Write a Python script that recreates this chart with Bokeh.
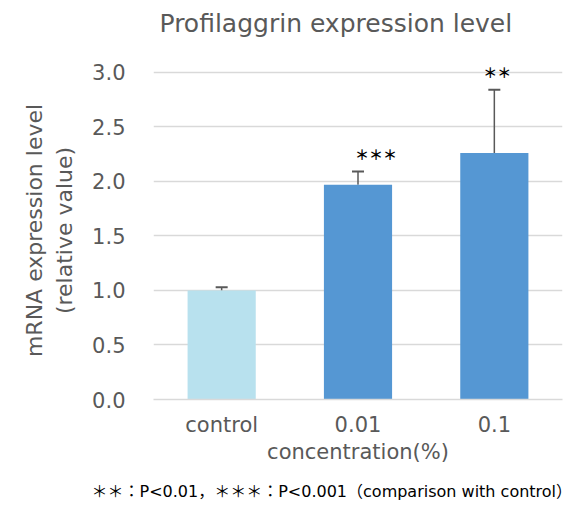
from bokeh.plotting import figure
from bokeh.models import (ColumnDataSource, Range1d, FixedTicker, PrintfTickFormatter,
                          Whisker, TeeHead, Title)
from bokeh.core.properties import value
from bokeh.embed import file_html
from bokeh.resources import INLINE

# Relative profilaggrin mRNA expression (mean and SD) per concentration
categories = ["control", "0.01", "0.1"]
means = [1.00, 1.97, 2.26]
sds = [0.03, 0.12, 0.58]
marks = ["", "＊＊＊", "＊＊"]
bar_colors = ["#B8E1EE", "#5597D3", "#5597D3"]
y_ticks = [0.0, 0.5, 1.0, 1.5, 2.0, 2.5, 3.0]

FONT = "DejaVu Sans"
GREY = "#595959"

upper = [m + s for m, s in zip(means, sds)]
source = ColumnDataSource(dict(
    cat=categories, mean=means, upper=upper, color=bar_colors,
    mark=marks, mark_y=[u + 0.16 for u in upper], mark_dx=[0, 18, 3],
))

# a little headroom above 3.0 keeps the significance marks inside the plot area
p = figure(x_range=categories, y_range=Range1d(0, 3.1), width=581, height=517,
           min_border_left=153, min_border_right=19, min_border_top=61,
           min_border_bottom=118, output_backend="svg", toolbar_location=None)

p.vbar(x="cat", top="mean", width=0.5, color="color", line_color=None, source=source)

err = Whisker(base="cat", upper="upper", lower="mean", source=source, dimension="height",
              line_color=GREY, line_width=1.5,
              upper_head=TeeHead(size=12, line_color=GREY, line_width=2), lower_head=None)
p.add_layout(err)

p.text(x="cat", y="mark_y", text="mark", x_offset="mark_dx", source=source,
       text_font=value("Noto Sans CJK JP"), text_font_size="14px", text_font_style="bold",
       text_color="#000000", text_align="center", text_baseline="middle")

# axes and grid
p.outline_line_color = None
p.xgrid.grid_line_color = None
p.ygrid.grid_line_color = "#D9D9D9"
p.ygrid.grid_line_width = 1.3

p.yaxis.ticker = FixedTicker(ticks=y_ticks)
p.yaxis.formatter = PrintfTickFormatter(format="%.1f")
p.yaxis.axis_line_color = None
p.yaxis.major_tick_line_color = None
p.yaxis.minor_tick_line_color = None
p.yaxis.major_label_standoff = 22
p.yaxis.axis_label = "mRNA expression level\n(relative value)"
p.yaxis.axis_label_standoff = 12

p.xaxis.axis_line_color = "#D9D9D9"
p.xaxis.axis_line_width = 1.3
p.xaxis.major_tick_line_color = None
p.xaxis.major_label_standoff = 7
p.xaxis.axis_label = "concentration(%)"
p.xaxis.axis_label_standoff = 0

for ax in (p.xaxis[0], p.yaxis[0]):
    ax.major_label_text_font = FONT
    ax.major_label_text_font_size = "21px"
    ax.major_label_text_color = GREY
    ax.axis_label_text_font = FONT
    ax.axis_label_text_font_style = "normal"
    ax.axis_label_text_color = GREY
p.xaxis.axis_label_text_font_size = "21px"
p.yaxis.axis_label_text_font_size = "22px"

# chart title, kept clear of the plot area by an empty spacer line
p.title.text = ""
spacer = Title(text=" ", text_font_size="16px", standoff=0)
p.add_layout(spacer, "above")
main_title = Title(text="Profilaggrin expression level", align="left", offset=6,
                   text_font=FONT, text_font_size="25px", text_font_style="normal",
                   text_color=GREY)
p.add_layout(main_title, "above")

# significance footnote
note = Title(text="＊＊：P<0.01，＊＊＊：P<0.001（comparison with control）",
             align="left", offset=-62, standoff=26,
             text_font="DejaVu Sans, Noto Sans CJK JP", text_font_size="16px",
             text_font_style="normal", text_color="#000000")
p.add_layout(note, "below")

open("out.html", "w").write(file_html(p, INLINE))
